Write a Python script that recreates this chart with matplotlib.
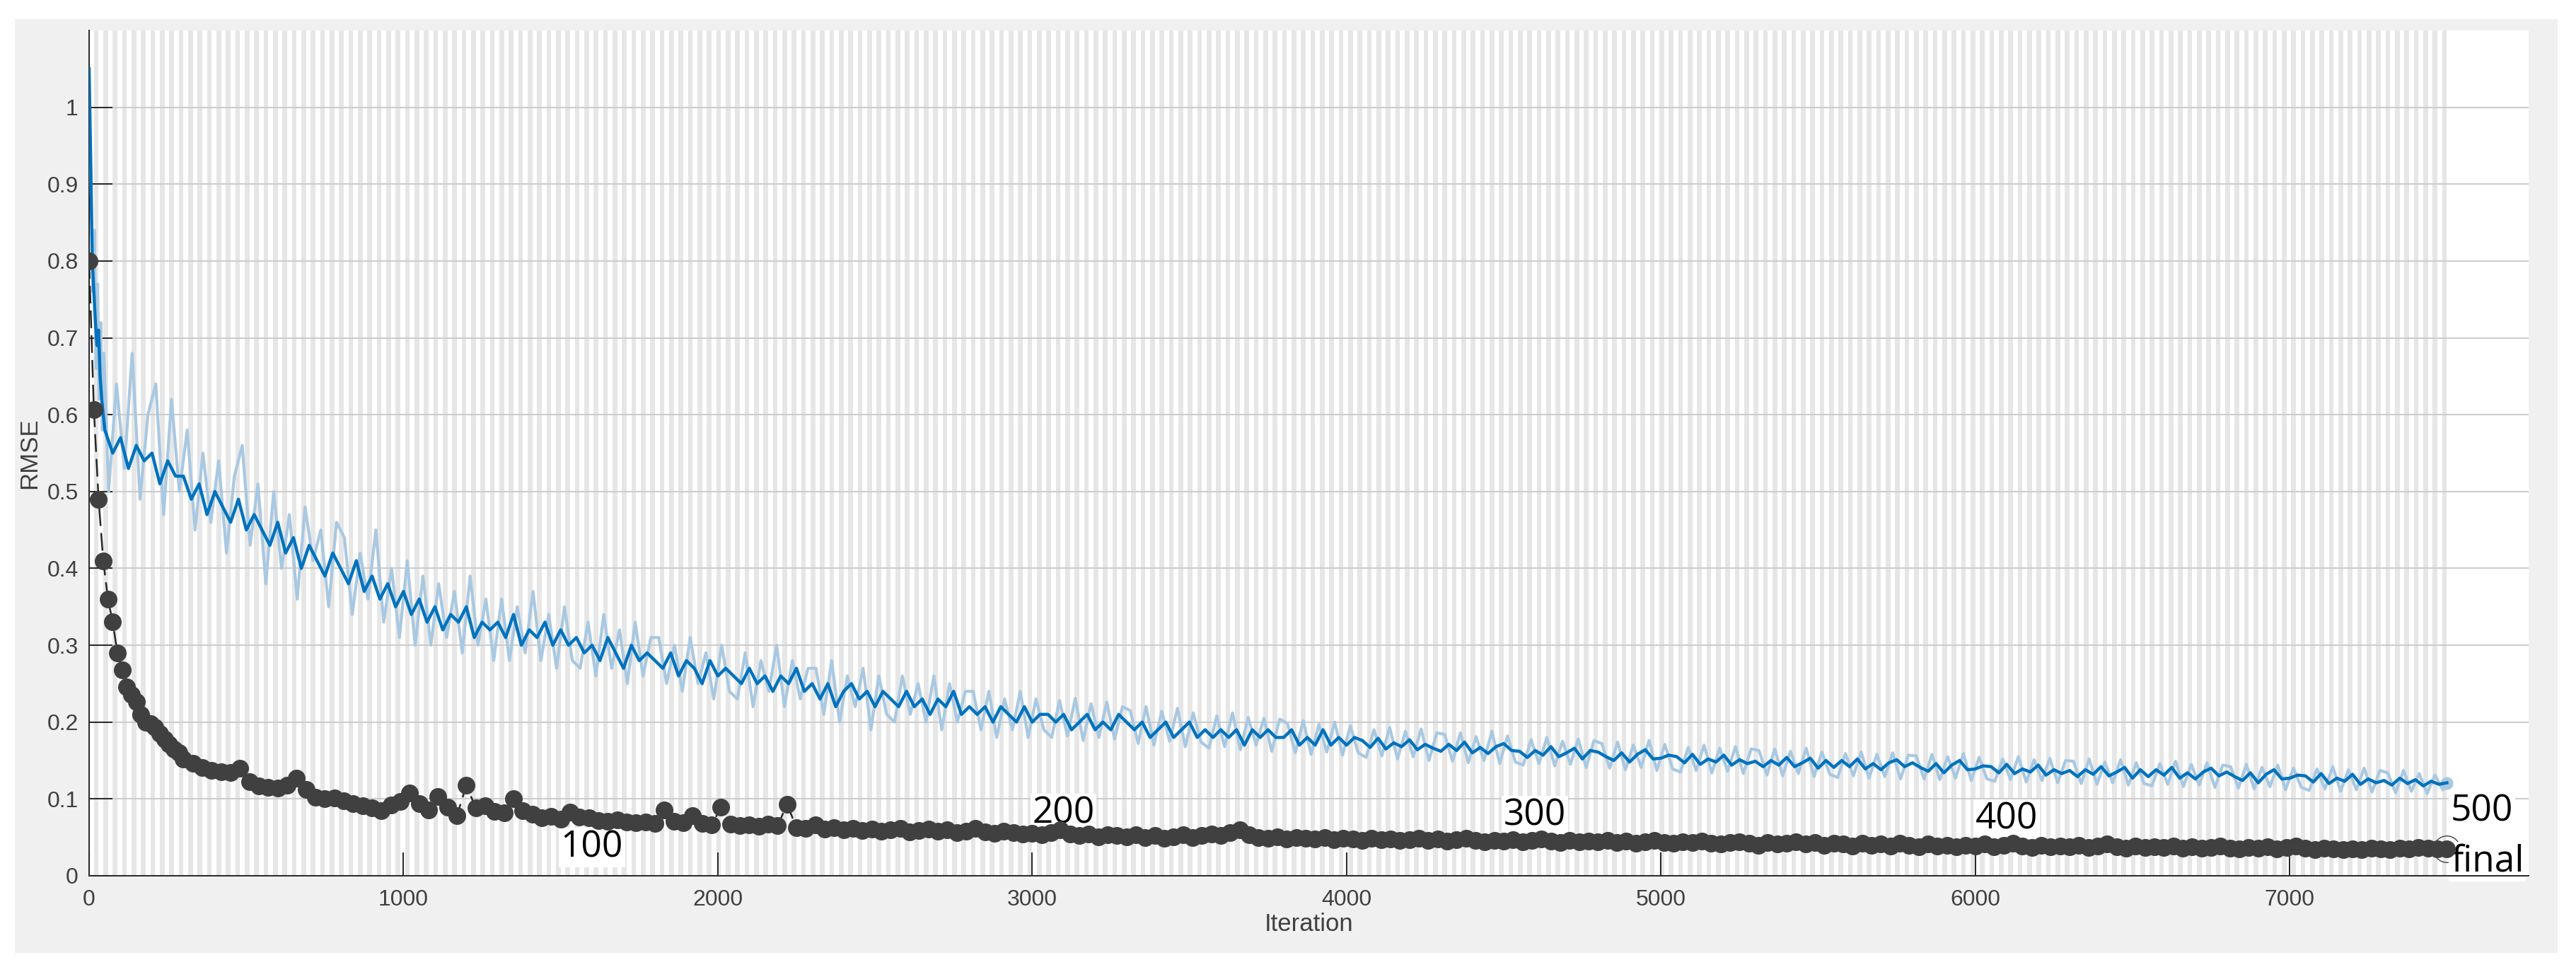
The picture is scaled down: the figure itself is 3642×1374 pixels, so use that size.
"""
Training progress plot (RMSE vs iteration), 500 epochs x 15 iterations
"""
import numpy as np
import matplotlib
matplotlib.use('Agg')
import matplotlib.pyplot as plt
from matplotlib.patches import Rectangle


### Data

n_epochs = 500
iters_per_epoch = 15

# smoothed training RMSE
train_iter = np.concatenate([np.arange(0, 50, 5), np.arange(50, 7501, 25)])
train_rmse = [
  1.05, 0.93, 0.80, 0.76, 0.72, 0.69, 0.71, 0.65, 0.62, 0.60,
  0.58, 0.55, 0.57, 0.53, 0.56, 0.54, 0.55, 0.51, 0.54, 0.52,
  0.52, 0.49, 0.51, 0.47, 0.50, 0.48, 0.46, 0.49, 0.45, 0.47,
  0.45, 0.43, 0.46, 0.42, 0.44, 0.40, 0.43, 0.41, 0.39, 0.42,
  0.40, 0.38, 0.41, 0.37, 0.39, 0.36, 0.38, 0.35, 0.37, 0.34,
  0.36, 0.33, 0.35, 0.32, 0.34, 0.33, 0.35, 0.31, 0.33, 0.32,
  0.33, 0.31, 0.34, 0.30, 0.32, 0.31, 0.33, 0.30, 0.32, 0.30,
  0.31, 0.29, 0.30, 0.28, 0.31, 0.29, 0.27, 0.30, 0.28, 0.29,
  0.28, 0.27, 0.29, 0.26, 0.28, 0.27, 0.25, 0.28, 0.26, 0.27,
  0.26, 0.25, 0.27, 0.25, 0.26, 0.24, 0.26, 0.25, 0.27, 0.24,
  0.25, 0.23, 0.25, 0.22, 0.24, 0.25, 0.23, 0.24, 0.22, 0.24,
  0.23, 0.22, 0.24, 0.22, 0.23, 0.21, 0.23, 0.22, 0.24, 0.21,
  0.22, 0.21, 0.22, 0.20, 0.22, 0.21, 0.20, 0.22, 0.20, 0.21,
  0.21, 0.20, 0.21, 0.19, 0.20, 0.21, 0.19, 0.20, 0.19, 0.21,
  0.20, 0.19, 0.20, 0.18, 0.19, 0.20, 0.18, 0.19, 0.20, 0.18,
  0.19, 0.18, 0.19, 0.18, 0.19, 0.17, 0.19, 0.18, 0.19, 0.18,
  0.18, 0.19, 0.17, 0.18, 0.17, 0.19, 0.17, 0.18, 0.17, 0.18,
  0.176, 0.167, 0.179, 0.165, 0.173, 0.168, 0.177, 0.164, 0.171, 0.166,
  0.162, 0.171, 0.163, 0.174, 0.160, 0.167, 0.159, 0.168, 0.172, 0.163,
  0.162, 0.154, 0.163, 0.157, 0.168, 0.155, 0.160, 0.166, 0.152, 0.163,
  0.161, 0.155, 0.150, 0.160, 0.148, 0.158, 0.164, 0.152, 0.153, 0.157,
  0.155, 0.147, 0.158, 0.145, 0.152, 0.148, 0.157, 0.144, 0.151, 0.146,
  0.149, 0.142, 0.150, 0.144, 0.154, 0.142, 0.147, 0.153, 0.140, 0.150,
  0.141, 0.150, 0.142, 0.152, 0.139, 0.146, 0.138, 0.147, 0.151, 0.142,
  0.147, 0.141, 0.136, 0.146, 0.134, 0.144, 0.150, 0.138, 0.139, 0.143,
  0.142, 0.134, 0.145, 0.133, 0.139, 0.135, 0.144, 0.131, 0.138, 0.133,
  0.137, 0.129, 0.138, 0.132, 0.142, 0.130, 0.135, 0.141, 0.127, 0.138,
  0.129, 0.138, 0.131, 0.141, 0.127, 0.134, 0.126, 0.135, 0.140, 0.130,
  0.135, 0.129, 0.124, 0.134, 0.121, 0.132, 0.138, 0.126, 0.127, 0.131,
  0.130, 0.122, 0.133, 0.120, 0.127, 0.123, 0.132, 0.119, 0.126, 0.121,
  0.124, 0.118, 0.127, 0.120, 0.125, 0.117, 0.123, 0.119, 0.121,
]

# raw (unsmoothed) training RMSE
raw_iter = np.concatenate([np.arange(2, 50, 5), np.arange(62, 7500, 25)])
raw_rmse = [
  0.98, 0.88, 0.76, 0.84, 0.66, 0.77, 0.62, 0.72, 0.58, 0.68,
  0.50, 0.64, 0.53, 0.68, 0.49, 0.60, 0.64, 0.47, 0.62, 0.50,
  0.58, 0.45, 0.55, 0.46, 0.54, 0.42, 0.52, 0.56, 0.43, 0.51,
  0.38, 0.50, 0.40, 0.47, 0.36, 0.48, 0.41, 0.45, 0.35, 0.46,
  0.44, 0.34, 0.42, 0.36, 0.45, 0.33, 0.40, 0.31, 0.41, 0.30,
  0.39, 0.30, 0.38, 0.31, 0.37, 0.29, 0.39, 0.30, 0.36, 0.28,
  0.36, 0.28, 0.35, 0.29, 0.37, 0.28, 0.34, 0.27, 0.35, 0.28,
  0.27, 0.33, 0.26, 0.34, 0.27, 0.32, 0.25, 0.33, 0.26, 0.31,
  0.31, 0.25, 0.30, 0.24, 0.31, 0.25, 0.29, 0.23, 0.30, 0.24,
  0.23, 0.29, 0.22, 0.28, 0.24, 0.30, 0.22, 0.28, 0.23, 0.27,
  0.27, 0.21, 0.28, 0.20, 0.26, 0.22, 0.27, 0.19, 0.26, 0.21,
  0.20, 0.26, 0.21, 0.25, 0.20, 0.26, 0.19, 0.25, 0.20, 0.24,
  0.24, 0.19, 0.24, 0.18, 0.23, 0.19, 0.24, 0.18, 0.23, 0.19,
  0.180, 0.228, 0.182, 0.231, 0.176, 0.224, 0.180, 0.226, 0.178, 0.220,
  0.215, 0.172, 0.220, 0.170, 0.214, 0.175, 0.218, 0.168, 0.212, 0.174,
  0.166, 0.208, 0.168, 0.212, 0.164, 0.206, 0.170, 0.205, 0.162, 0.204,
  0.198, 0.160, 0.202, 0.158, 0.197, 0.161, 0.200, 0.157, 0.195, 0.160,
  0.154, 0.190, 0.156, 0.193, 0.152, 0.188, 0.155, 0.191, 0.150, 0.186,
  0.184, 0.149, 0.186, 0.147, 0.181, 0.150, 0.188, 0.146, 0.182, 0.148,
  0.144, 0.177, 0.146, 0.180, 0.143, 0.175, 0.145, 0.178, 0.141, 0.176,
  0.172, 0.140, 0.174, 0.138, 0.170, 0.141, 0.176, 0.137, 0.171, 0.139,
  0.135, 0.167, 0.137, 0.170, 0.134, 0.166, 0.136, 0.168, 0.133, 0.165,
  0.163, 0.131, 0.165, 0.130, 0.162, 0.133, 0.166, 0.129, 0.161, 0.132,
  0.128, 0.159, 0.130, 0.161, 0.127, 0.158, 0.129, 0.160, 0.126, 0.157,
  0.156, 0.126, 0.158, 0.125, 0.155, 0.127, 0.159, 0.124, 0.154, 0.126,
  0.123, 0.152, 0.125, 0.155, 0.122, 0.151, 0.124, 0.153, 0.121, 0.150,
  0.149, 0.120, 0.152, 0.119, 0.148, 0.121, 0.151, 0.118, 0.147, 0.120,
  0.117, 0.146, 0.119, 0.149, 0.116, 0.145, 0.118, 0.147, 0.115, 0.144,
  0.142, 0.114, 0.145, 0.113, 0.141, 0.116, 0.144, 0.112, 0.140, 0.115,
  0.111, 0.139, 0.113, 0.142, 0.110, 0.138, 0.112, 0.140, 0.109, 0.137,
  0.134, 0.108, 0.137, 0.110, 0.133, 0.107, 0.131, 0.112,
]

# validation RMSE
val_iter = np.concatenate([np.arange(0, 300, 15), np.arange(300, 7501, 30)])
val_rmse = [
  0.80, 0.607, 0.49, 0.41, 0.36, 0.33, 0.29, 0.268, 0.246, 0.236,
  0.226, 0.21, 0.20, 0.198, 0.193, 0.185, 0.178, 0.171, 0.165, 0.16,
  0.152, 0.146, 0.141, 0.137, 0.135, 0.134, 0.140, 0.122, 0.117, 0.115,
  0.114, 0.118, 0.127, 0.112, 0.102, 0.100, 0.101, 0.098, 0.094, 0.091,
  0.088, 0.085, 0.092, 0.097, 0.108, 0.094, 0.086, 0.103, 0.089, 0.078,
  0.118, 0.088, 0.091, 0.084, 0.082, 0.100, 0.085, 0.080, 0.075, 0.077,
  0.074, 0.083, 0.076, 0.075, 0.072, 0.071, 0.073, 0.070, 0.069, 0.070,
  0.068, 0.086, 0.071, 0.069, 0.078, 0.068, 0.066, 0.089, 0.067, 0.065,
  0.066, 0.064, 0.067, 0.065, 0.093, 0.063, 0.062, 0.066, 0.061, 0.063,
  0.060, 0.062, 0.059, 0.061, 0.058, 0.060, 0.062, 0.057, 0.059, 0.061,
  0.058, 0.060, 0.056, 0.058, 0.062, 0.057, 0.055, 0.058, 0.056, 0.054,
  0.055, 0.053, 0.056, 0.060, 0.054, 0.052, 0.054, 0.051, 0.053, 0.052,
  0.051, 0.053, 0.050, 0.052, 0.049, 0.051, 0.053, 0.050, 0.052, 0.054,
  0.052, 0.056, 0.060, 0.053, 0.050, 0.049, 0.051, 0.048, 0.050, 0.049,
  0.048, 0.050, 0.047, 0.049, 0.048, 0.046, 0.049, 0.047, 0.048, 0.046,
  0.047, 0.049, 0.046, 0.048, 0.045, 0.047, 0.049, 0.046, 0.044, 0.046,
  0.045, 0.047, 0.044, 0.046, 0.048, 0.045, 0.043, 0.046, 0.044, 0.045,
  0.044, 0.046, 0.043, 0.045, 0.042, 0.044, 0.046, 0.043, 0.042, 0.044,
  0.043, 0.045, 0.042, 0.041, 0.043, 0.044, 0.042, 0.040, 0.043, 0.041,
  0.042, 0.044, 0.041, 0.043, 0.040, 0.042, 0.041, 0.039, 0.042, 0.040,
  0.041, 0.039, 0.042, 0.040, 0.038, 0.041, 0.039, 0.040, 0.038, 0.040,
  0.039, 0.041, 0.038, 0.040, 0.042, 0.039, 0.037, 0.040, 0.038, 0.039,
  0.038, 0.040, 0.037, 0.039, 0.041, 0.038, 0.036, 0.039, 0.037, 0.038,
  0.037, 0.039, 0.036, 0.038, 0.036, 0.037, 0.039, 0.036, 0.035, 0.037,
  0.036, 0.038, 0.035, 0.037, 0.039, 0.036, 0.034, 0.036, 0.035, 0.034,
  0.035, 0.034, 0.036, 0.035, 0.034, 0.036, 0.035, 0.037, 0.036, 0.035,
  0.035,
]

# epoch annotations
epoch_marks = [100, 200, 300, 400]
epoch_mark_y = [0.037, 0.081, 0.078, 0.074]

xticks = np.arange(0, 7001, 1000)
yticks = np.round(np.arange(0, 1.01, 0.1), 1)
ytick_labels = ['0', '0.1', '0.2', '0.3', '0.4', '0.5', '0.6', '0.7', '0.8', '0.9', '1']


### plot
tick_font = ['Liberation Sans', 'DejaVu Sans']
label_font = ['Open Sans', 'DejaVu Sans']

fig = plt.figure(figsize=(36.42, 13.74), dpi=100)
fig.patches.append(Rectangle((0.0058, 0.0197), 0.9871, 0.9607, transform=fig.transFigure,
                             facecolor='#f0f0f0', edgecolor='none', zorder=-1))

ax = fig.add_axes([0.0346, 0.0990, 0.9470, 0.8697])
ax.set_facecolor('white')
ax.set_axisbelow(True)

# shade every other epoch
for e in range(2, n_epochs + 1, 2):
  ax.axvspan((e - 1) * iters_per_epoch, e * iters_per_epoch, color='#e6e6e6', lw=0, zorder=0.2)

ax.grid(axis='y', color='#cdcdcd', lw=1.5)
ax.grid(axis='x', visible=False)

ax.plot(raw_iter, raw_rmse, color='#a9c8e1', lw=3.0, zorder=3)
ax.plot(train_iter, train_rmse, color='#0072bd', lw=3.2, zorder=3.1)
ax.plot(train_iter[-1], train_rmse[-1], 'o', color='#a9c8e1', ms=12, zorder=3)

ax.plot(val_iter, val_rmse, ls='--', dashes=(10, 4), color='#262626', lw=1.8,
        marker='o', ms=17, mfc='#404040', mec='#404040', zorder=4)
ax.plot(val_iter[-1], val_rmse[-1], 'o', ms=27, mfc='none', mec='#404040', mew=1, zorder=2)

box = dict(facecolor='white', edgecolor='none', pad=2)
for ep, y in zip(epoch_marks, epoch_mark_y):
  ax.text(ep * iters_per_epoch, y, str(ep), ha='left', va='center', fontsize=37,
          family=label_font, color='black', bbox=box, zorder=2.5)
ax.text(n_epochs * iters_per_epoch + 12, 0.084, str(n_epochs), ha='left', va='center',
        fontsize=37, family=label_font, color='black', bbox=box, zorder=2.5)
ax.text(n_epochs * iters_per_epoch + 12, 0.006, 'final', ha='left', va='baseline',
        fontsize=37, family=label_font, color='black', bbox=box, zorder=2.5)

ax.set_xlim(0, 7760)
ax.set_ylim(0, 1.1)
ax.set_xticks(xticks)
ax.set_xticklabels([str(t) for t in xticks], family=tick_font)
ax.set_yticks(yticks)
ax.set_yticklabels(ytick_labels, family=tick_font)
ax.tick_params(direction='in', length=24, width=1.4, color='#262626',
               labelsize=23, labelcolor='#404040')
ax.tick_params(axis='x', pad=14)
ax.tick_params(axis='y', pad=11)

for s in ['top', 'right']:
  ax.spines[s].set_visible(False)
for s in ['left', 'bottom']:
  ax.spines[s].set_color('#262626')
  ax.spines[s].set_linewidth(1.4)

ax.set_xlabel('Iteration', fontsize=25, family=tick_font, color='#404040', labelpad=2)
ax.set_ylabel('RMSE', fontsize=25, family=tick_font, color='#404040', labelpad=6)

fig.savefig('out.png', dpi=100)
